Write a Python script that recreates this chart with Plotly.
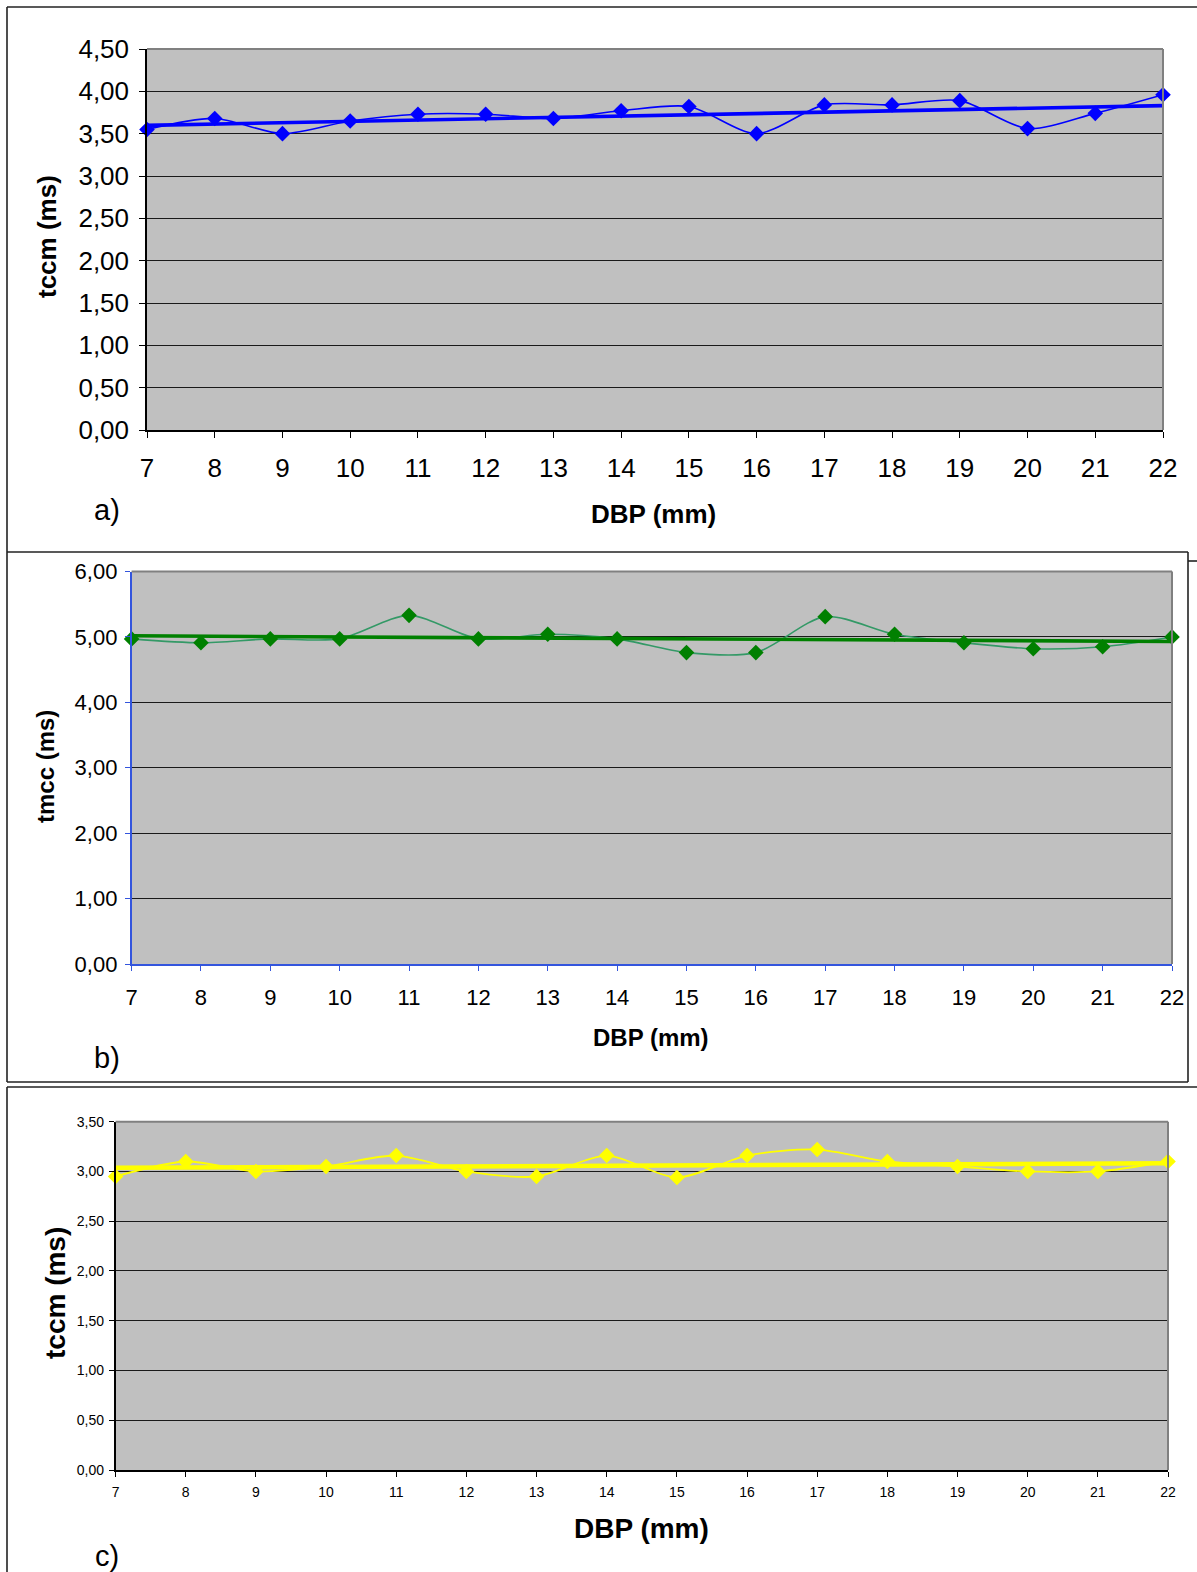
import numpy as np
import plotly.graph_objects as go

# DBP (mm) on the horizontal axis, shared by all three panels
dbp = [7, 8, 9, 10, 11, 12, 13, 14, 15, 16, 17, 18, 19, 20, 21, 22]

# a) tccm (ms)
tccm_a = [3.55, 3.68, 3.50, 3.65, 3.73, 3.73, 3.68, 3.77, 3.82, 3.50, 3.84, 3.84, 3.89, 3.56, 3.74, 3.96]
# b) tmcc (ms)
tmcc_b = [4.97, 4.91, 4.97, 4.97, 5.33, 4.97, 5.04, 4.97, 4.76, 4.76, 5.31, 5.04, 4.91, 4.82, 4.85, 5.00]
# c) tccm (ms)
tccm_c = [2.95, 3.10, 3.00, 3.05, 3.16, 3.00, 2.95, 3.16, 2.94, 3.16, 3.22, 3.10, 3.05, 3.00, 3.00, 3.10]

y_titles = ["tccm (ms)", "tmcc (ms)", "tccm (ms)"]
x_title = "DBP (mm)"
panel_tags = ["a)", "b)", "c)"]

W, H = 1197, 1572
FONT = "Liberation Sans, Arial, sans-serif"


def px(x):
    return x / W


def py(y):
    return 1 - y / H


def trend(xs, ys):
    k, b = np.polyfit(xs, ys, 1)
    return [k * x + b for x in xs]


fig = go.Figure()

panels = [
    dict(data=tccm_a, line="#0000FF", marker="#0000FF", trend="#0000FF", lw=1.6, tw=3.6,
         box=(147, 1163, 49, 430), yr=[0, 4.5], dy=0.5, axis="#000000",
         tick_font=26, xstand=8, ystand=5, ticklen=6),
    dict(data=tmcc_b, line="#339966", marker="#008000", trend="#008000", lw=1.6, tw=3.6,
         box=(131.6, 1172, 571.5, 964), yr=[0, 6], dy=1, axis="#3355DD",
         tick_font=22, xstand=8, ystand=3, ticklen=5),
    dict(data=tccm_c, line="#FFFF00", marker="#FFFF00", trend="#FFFF00", lw=1.8, tw=4.5,
         box=(115.6, 1168, 1121.7, 1470), yr=[0, 3.5], dy=0.5, axis="#000000",
         tick_font=14, xstand=3, ystand=2, ticklen=5),
]

for i, p in enumerate(panels, start=1):
    sfx = "" if i == 1 else str(i)
    xa, ya = "x" + sfx, "y" + sfx
    fig.add_trace(go.Scatter(
        x=dbp, y=p["data"], xaxis=xa, yaxis=ya, mode="lines+markers",
        line=dict(color=p["line"], width=p["lw"], shape="spline", smoothing=0.8),
        marker=dict(symbol="diamond", size=12, color=p["marker"]),
        showlegend=False, hoverinfo="skip", cliponaxis=False))
    fig.add_trace(go.Scatter(
        x=dbp, y=trend(dbp, p["data"]), xaxis=xa, yaxis=ya, mode="lines",
        line=dict(color=p["trend"], width=p["tw"]),
        showlegend=False, hoverinfo="skip"))

    x0, x1, y0, y1 = p["box"]
    fig.update_layout({
        "xaxis" + sfx: dict(
            domain=[px(x0), px(x1)], anchor=ya, range=[7, 22], dtick=1, tick0=7,
            showgrid=False, zeroline=False, showline=True, linecolor=p["axis"],
            linewidth=1.5, ticks="outside", ticklen=p["ticklen"], tickcolor=p["axis"],
            tickwidth=1.2, ticklabelstandoff=p["xstand"], automargin=False,
            tickfont=dict(family=FONT, size=p["tick_font"], color="#000")),
        "yaxis" + sfx: dict(
            domain=[py(y1), py(y0)], anchor=xa, range=p["yr"], dtick=p["dy"], tick0=0,
            tickformat=".2f", showgrid=True, gridcolor="#1a1a1a", gridwidth=1,
            zeroline=False, showline=True, linecolor=p["axis"], linewidth=1.5,
            ticks="outside", ticklen=p["ticklen"], tickcolor=p["axis"], tickwidth=1.2,
            ticklabelstandoff=p["ystand"], automargin=False,
            tickfont=dict(family=FONT, size=p["tick_font"], color="#000")),
    })
    # grey border on the top and right of each plot area
    fig.add_shape(type="line", xref=xa + " domain", yref=ya + " domain",
                  x0=0, x1=1, y0=1, y1=1, line=dict(color="#808080", width=2))
    fig.add_shape(type="line", xref=xa + " domain", yref=ya + " domain",
                  x0=1, x1=1, y0=0, y1=1, line=dict(color="#808080", width=2))

# frames around the three charts, drawn as segments kept inside the page
frame_segments = [
    (7, 7, 1197, 7), (7, 7, 7, 552), (1188, 561, 1197, 561),          # a)
    (7, 552, 1188, 552), (7, 552, 7, 1082), (1188, 552, 1188, 1082),  # b)
    (7, 1082, 1188, 1082),
    (7, 1087, 1197, 1087), (7, 1087, 7, 1572),                        # c)
]
for x0, y0, x1, y1 in frame_segments:
    fig.add_shape(type="line", xref="paper", yref="paper", layer="below",
                  x0=px(x0), x1=px(x1), y0=py(y0), y1=py(y1),
                  line=dict(color="#222222", width=1.6))

# axis titles and panel tags
labels = [
    (y_titles[0], 47, 237, 26, True, -90),
    (x_title, 653, 514, 26, True, 0),
    (panel_tags[0], 107, 510, 29, False, 0),
    (y_titles[1], 45, 767, 24, True, -90),
    (x_title, 651, 1037, 24, True, 0),
    (panel_tags[1], 107, 1058, 29, False, 0),
    (y_titles[2], 55, 1293, 28, True, -90),
    (x_title, 641, 1528, 28, True, 0),
    (panel_tags[2], 107, 1556, 29, False, 0),
]
for text, x, y, size, bold, ang in labels:
    fig.add_annotation(
        text=f"<b>{text}</b>" if bold else text, xref="paper", yref="paper",
        x=px(x), y=py(y), xanchor="center", yanchor="middle", showarrow=False,
        textangle=ang, font=dict(family=FONT, size=size, color="#000"))

fig.update_layout(
    width=W, height=H, margin=dict(l=0, r=0, t=0, b=0, autoexpand=False),
    paper_bgcolor="#FFFFFF", plot_bgcolor="#C0C0C0", separators=",.",
    showlegend=False)

fig.write_html("out.html")
